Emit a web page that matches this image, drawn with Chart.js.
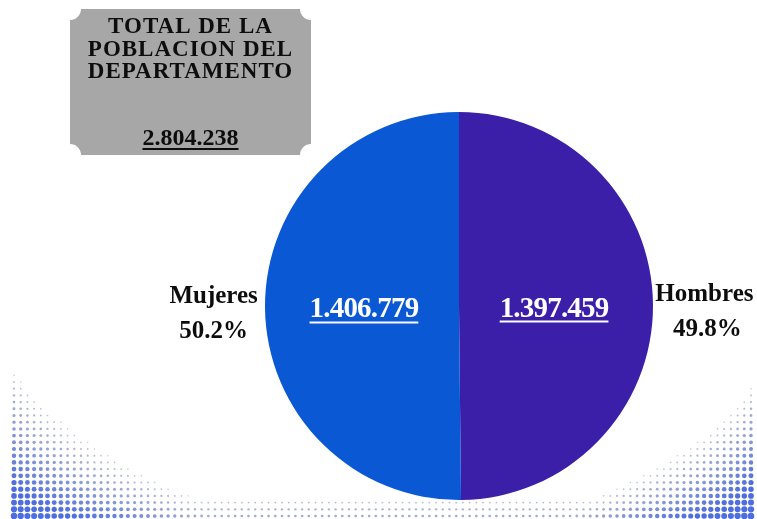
<!DOCTYPE html>
<html>
<head>
<meta charset="utf-8">
<script src="https://cdn.jsdelivr.net/npm/chart.js@4.4.1/dist/chart.umd.min.js"></script>
<style>
  html, body { margin: 0; padding: 0; background: #fff; }
  #wrap { position: relative; width: 757px; height: 519px; }
</style>
</head>
<body>
<div id="wrap"><canvas id="pieChart" width="757" height="519"></canvas></div>
<script>
// datos
var categorias = ['Hombres', 'Mujeres'];
var poblacion = [1397459, 1406779];
var colores = ['#3b1fa8', '#0a58d3'];
var titulo = ['TOTAL DE LA', 'POBLACION DEL', 'DEPARTAMENTO'];

function formatoMiles(n) {
	return String(n).replace(/\B(?=(\d{3})+(?!\d))/g, '.');
}

var total = poblacion.reduce(function(a, b){ return a + b; }, 0);

// intensidad del degradado de puntos en una esquina
function esquina(dx, dy) {
	if (dx >= 1 || dy >= 1) return 0;
	var s = Math.pow(dx, 0.7) + Math.pow(dy, 0.7);
	return s < 1 ? 1 - s : 0;
}

// fondo de puntos
var fondoPuntos = {
	id: 'fondoPuntos',
	beforeDraw: function(chart) {
		var ctx = chart.ctx;
		var paso = 6.7;
		ctx.save();
		for (var y = 516; y > 335; y -= paso) {
			for (var x = 14; x < 757; x += paso) {
				var t = esquina(x / 285, (519 - y) / 180);
				t = Math.max(t, esquina((757 - x) / 255, (519 - y) / 150));
				// franja inferior
				if (y > 496) t = Math.max(t, (y - 496) / 20 * 0.15);
				if (t <= 0.01) continue;
				var tt = Math.pow(t, 0.7);
				var r = 0.55 + 3.1 * tt;
				var k = Math.min(1, tt * 1.5);
				var cr = Math.round(150 + (78 - 150) * k);
				var cg = Math.round(152 + (110 - 152) * k);
				var cb = Math.round(172 + (224 - 172) * k);
				ctx.fillStyle = 'rgba(' + cr + ',' + cg + ',' + cb + ',' + (0.5 + 0.5 * k) + ')';
				ctx.beginPath();
				ctx.arc(x, y, r, 0, Math.PI * 2);
				ctx.fill();
			}
		}
		ctx.restore();
	}
};

// recuadro y etiquetas
var etiquetas = {
	id: 'etiquetas',
	afterDraw: function(chart) {
		var ctx = chart.ctx;
		ctx.save();

		// recuadro gris con esquinas cortadas
		var bx = 70, by = 9, bw = 241, bh = 146, rc = 11;
		ctx.fillStyle = '#a7a7a7';
		ctx.beginPath();
		ctx.moveTo(bx + rc, by);
		ctx.lineTo(bx + bw - rc, by);
		ctx.arc(bx + bw, by, rc, Math.PI, Math.PI / 2, true);
		ctx.lineTo(bx + bw, by + bh - rc);
		ctx.arc(bx + bw, by + bh, rc, -Math.PI / 2, Math.PI, true);
		ctx.lineTo(bx + rc, by + bh);
		ctx.arc(bx, by + bh, rc, 0, -Math.PI / 2, true);
		ctx.lineTo(bx, by + rc);
		ctx.arc(bx, by, rc, Math.PI / 2, 0, true);
		ctx.closePath();
		ctx.fill();

		ctx.fillStyle = '#0d0d0d';
		ctx.textAlign = 'center';
		ctx.textBaseline = 'alphabetic';
		ctx.font = 'bold 23px "Liberation Serif", "Times New Roman", serif';
		var cx = bx + bw / 2;
		ctx.letterSpacing = '1px';
		titulo.forEach(function(linea, i){
			ctx.fillText(linea, cx, 33 + i * 22.5);
		});
		ctx.letterSpacing = '0px';
		ctx.font = 'bold 24px "Liberation Serif", "Times New Roman", serif';
		var totTxt = formatoMiles(total);
		ctx.fillText(totTxt, cx, 145);
		var tw = ctx.measureText(totTxt).width;
		ctx.fillRect(cx - tw / 2, 148, tw, 2);

		// etiquetas de los sectores
		var meta = chart.getDatasetMeta(0);
		meta.data.forEach(function(arc, i){
			var mid = (arc.startAngle + arc.endAngle) / 2;
			var R = arc.outerRadius;
			// valor dentro
			var ix = arc.x + Math.cos(mid) * R * 0.49;
			var iy = arc.y + Math.sin(mid) * R * 0.49;
			var txt = formatoMiles(poblacion[i]);
			ctx.font = 'bold 29px "Liberation Serif", "Times New Roman", serif';
			ctx.letterSpacing = '-0.8px';
			ctx.fillStyle = '#ffffff';
			ctx.textAlign = 'center';
			ctx.fillText(txt, ix, iy + 11);
			var w = ctx.measureText(txt).width;
			ctx.fillRect(ix - w / 2, iy + 15, w, 2);
			ctx.letterSpacing = '0px';

			// nombre y porcentaje fuera
			var ox = arc.x + Math.cos(mid) * R * 1.265;
			var oy = arc.y + Math.sin(mid) * R * 1.265;
			var pct = (poblacion[i] / total * 100).toFixed(1) + '%';
			ctx.fillStyle = '#0d0d0d';
			ctx.font = 'bold 25px "Liberation Serif", "Times New Roman", serif';
			ctx.fillText(categorias[i], ox, oy - 4);
			ctx.fillText(pct, ox + (i == 0 ? 3 : 0), oy + 31);
		});
		ctx.restore();
	}
};

var config = {
	type: 'pie',
	data: {
		labels: categorias,
		datasets: [{
			data: poblacion,
			backgroundColor: colores,
			borderWidth: 0
		}]
	},
	options: {
		responsive: false,
		animation: false,
		devicePixelRatio: 1,
		layout: { padding: { left: 265, right: 104, top: 112, bottom: 19 } },
		plugins: {
			legend: { display: false },
			tooltip: { enabled: false }
		}
	},
	plugins: [fondoPuntos, etiquetas]
};

var pieChart = new Chart(document.getElementById('pieChart'), config);
</script>
</body>
</html>
